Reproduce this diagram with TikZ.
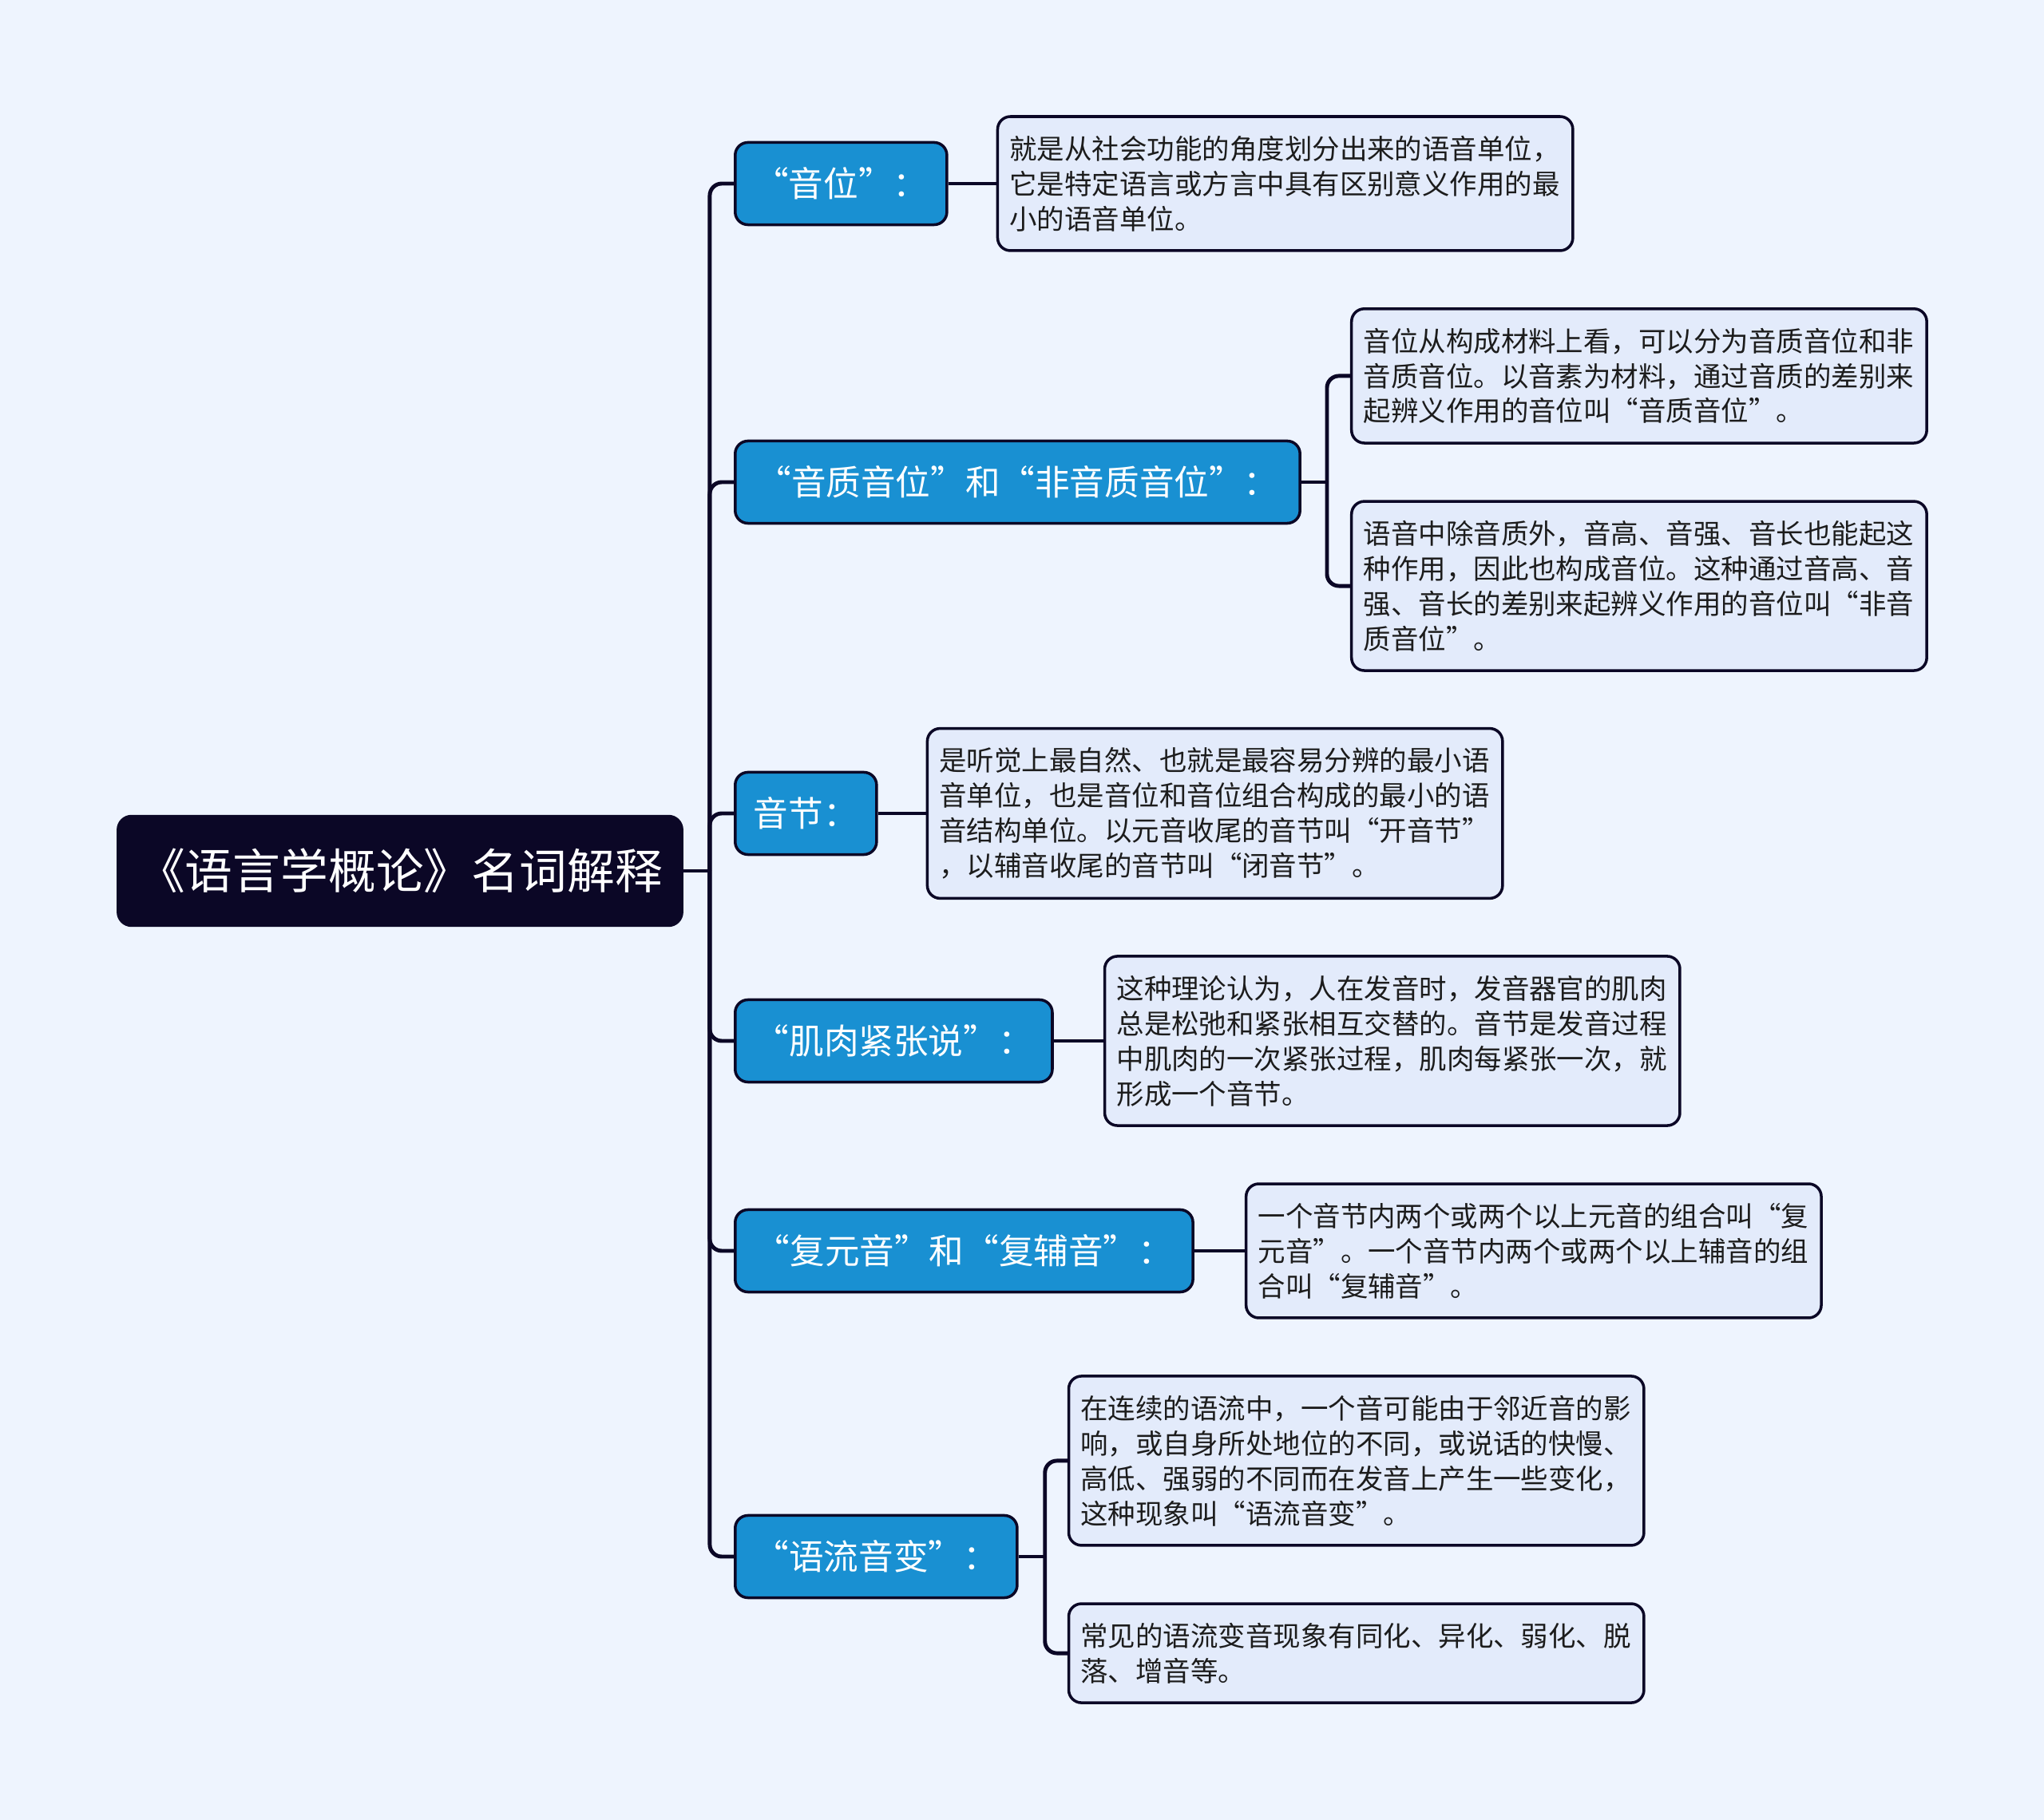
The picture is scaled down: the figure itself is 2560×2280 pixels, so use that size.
\documentclass[tikz,border=0pt]{standalone}
\usepackage{fontspec}
\setmainfont{Noto Sans CJK SC}
\usepackage{tikz}
\usetikzlibrary{positioning}
\usepackage{xcolor}
\definecolor{pagebg}{HTML}{EEF4FE}
\definecolor{inkblue}{HTML}{0B0726}
\definecolor{topicblue}{HTML}{1990D2}
\definecolor{notefill}{HTML}{E3EBFB}
\definecolor{notetext}{HTML}{1C1C1C}
\tikzset{%
	root node/.style={
		draw=inkblue,
		fill=inkblue,
		text=white,
		rounded corners=0.18cm,
		minimum width=7.08cm,
		minimum height=1.39cm,
		font=\fontsize{17pt}{20pt}\selectfont
	},
	topic/.style={
		draw=inkblue,
		line width=1pt,
		fill=topicblue,
		text=white,
		rounded corners=0.16cm,
		anchor=west,
		minimum height=1.03cm,
		inner xsep=0.1cm,
		font=\fontsize{12.4pt}{15pt}\selectfont
	},
	note/.style={
		draw=inkblue,
		line width=1pt,
		fill=notefill,
		text=notetext,
		rounded corners=0.16cm,
		align=left,
		text width=6.9cm,
		inner xsep=0.15cm,
		inner ysep=0.24cm,
		font=\fontsize{9.8pt}{12.5pt}\selectfont
	},
	link/.style={
		draw=inkblue,
		line width=1.4pt,
		rounded corners=0.15cm
	},
}
\begin{document}
\begin{tikzpicture}[x=0.01cm, y=-0.01cm]

			\fill[pagebg] (0,0) rectangle (2560,2280);
			\useasboundingbox (0,0) rectangle (2560,2280);

			\node[root node] (root) at (501,1091) {《语言学概论》名词解释};

			\node[topic, minimum width=2.65cm] (b1) at (919,230) {“音位”：};
			\node[topic, minimum width=7.07cm] (b2) at (919,604) {“音质音位”和“非音质音位”：};
			\node[topic, minimum width=1.77cm] (b3) at (919,1019) {音节：};
			\node[topic, minimum width=3.97cm] (b4) at (919,1304) {“肌肉紧张说”：};
			\node[topic, minimum width=5.73cm] (b5) at (919,1567) {“复元音”和“复辅音”：};
			\node[topic, minimum width=3.53cm] (b6) at (919,1950) {“语流音变”：};

			\node[note, right=0.6cm of b1] (n1) {就是从社会功能的角度划分出来的语音单位，\\它是特定语言或方言中具有区别意义作用的最\\小的语音单位。};
			\node[note, right=0.61cm of b2, yshift=1.33cm] (n2a) {音位从构成材料上看，可以分为音质音位和非\\音质音位。以音素为材料，通过音质的差别来\\起辨义作用的音位叫“音质音位”。};
			\node[note, right=0.61cm of b2, yshift=-1.3cm] (n2b) {语音中除音质外，音高、音强、音长也能起这\\种作用，因此也构成音位。这种通过音高、音\\强、音长的差别来起辨义作用的音位叫“非音\\质音位”。};
			\node[note, right=0.6cm of b3] (n3) {是听觉上最自然、也就是最容易分辨的最小语\\音单位，也是音位和音位组合构成的最小的语\\音结构单位。以元音收尾的音节叫“开音节”\\，以辅音收尾的音节叫“闭音节”。};
			\node[note, right=0.62cm of b4] (n4) {这种理论认为，人在发音时，发音器官的肌肉\\总是松弛和紧张相互交替的。音节是发音过程\\中肌肉的一次紧张过程，肌肉每紧张一次，就\\形成一个音节。};
			\node[note, right=0.63cm of b5] (n5) {一个音节内两个或两个以上元音的组合叫“复\\元音”。一个音节内两个或两个以上辅音的组\\合叫“复辅音”。};
			\node[note, right=0.61cm of b6, yshift=1.2cm] (n6a) {在连续的语流中，一个音可能由于邻近音的影\\响，或自身所处地位的不同，或说话的快慢、\\高低、强弱的不同而在发音上产生一些变化，\\这种现象叫“语流音变”。};
			\node[note, right=0.61cm of b6, yshift=-1.21cm] (n6b) {常见的语流变音现象有同化、异化、弱化、脱\\落、增音等。};

			\coordinate (spine) at ([xshift=0.33cm]root.east);
			\draw[link] (root.east) -- (spine);
			\foreach \b in {b1,b2,b3,b4,b5,b6}
				\draw[link] (spine) |- (\b.west);

			\draw[link] (b1.east) -- (n1.west);
			\draw[link] (b3.east) -- (n3.west);
			\draw[link] (b4.east) -- (n4.west);
			\draw[link] (b5.east) -- (n5.west);

			\coordinate (fork2) at ([xshift=0.32cm]b2.east);
			\draw[link] (b2.east) -- (fork2);
			\draw[link] (fork2) |- (n2a.west);
			\draw[link] (fork2) |- (n2b.west);

			\coordinate (fork6) at ([xshift=0.33cm]b6.east);
			\draw[link] (b6.east) -- (fork6);
			\draw[link] (fork6) |- (n6a.west);
			\draw[link] (fork6) |- (n6b.west);

\end{tikzpicture}
\end{document}
